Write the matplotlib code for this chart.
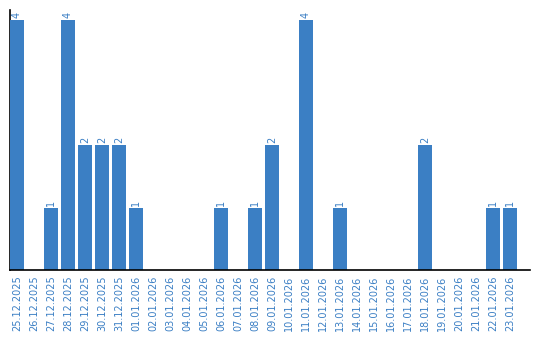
import matplotlib
matplotlib.use('Agg')
import matplotlib.pyplot as plt

dates = ['25.12.2025', '26.12.2025', '27.12.2025', '28.12.2025', '29.12.2025',
         '30.12.2025', '31.12.2025', '01.01.2026', '02.01.2026', '03.01.2026',
         '04.01.2026', '05.01.2026', '06.01.2026', '07.01.2026', '08.01.2026',
         '09.01.2026', '10.01.2026', '11.01.2026', '12.01.2026', '13.01.2026',
         '14.01.2026', '15.01.2026', '16.01.2026', '17.01.2026', '18.01.2026',
         '19.01.2026', '20.01.2026', '21.01.2026', '22.01.2026', '23.01.2026']
counts = [4, 0, 1, 4, 2, 2, 2, 1, 0, 0,
          0, 0, 1, 0, 1, 2, 0, 4, 0, 1,
          0, 0, 0, 0, 2, 0, 0, 0, 1, 1]

blue = '#3b7fc4'

fig = plt.figure(figsize=(5.4, 3.4), dpi=100)
ax = fig.add_axes([10 / 540, 70 / 340, 520 / 540, 260 / 340])

x = list(range(len(dates)))
# bars drawn over the left spine, like in the original
ax.bar(x, counts, width=14 / 17, color=blue, zorder=3)

for xi, c in zip(x, counts):
    if c > 0:
        ax.text(xi, c + 0.03, str(c), rotation=90, ha='center', va='bottom',
                color=blue, fontsize=7)

ax.set_xlim(-0.41, 30.18)
ax.set_ylim(0, 4.16)
ax.set_xticks(x)
ax.set_xticklabels(dates, rotation=90, color=blue, fontsize=7)
ax.tick_params(axis='x', length=0, pad=4)
ax.set_yticks([])
ax.spines['top'].set_visible(False)
ax.spines['right'].set_visible(False)
ax.spines['bottom'].set_linewidth(1.2)
ax.spines['bottom'].set_zorder(4)
ax.spines['left'].set_linewidth(1.2)

fig.savefig('out.png', dpi=100)
